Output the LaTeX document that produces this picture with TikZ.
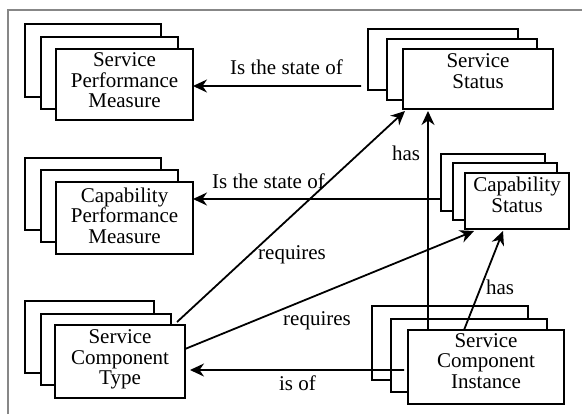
\documentclass[tikz,border=0pt]{standalone}
\usepackage{fontspec}
\setmainfont{Liberation Serif}
\usetikzlibrary{arrows.meta}

\tikzset{
  layer/.style={draw=black, fill=white, line width=2bp, inner sep=0pt, outer sep=0pt},
  boxtext/.style={align=center, inner sep=0pt, font=\fontsize{21bp}{20.5bp}\selectfont},
  lbl/.style={inner sep=0pt, anchor=base, font=\fontsize{21bp}{20.5bp}\selectfont},
  conn/.style={line width=1.8bp, -{Stealth[length=14bp, width=13bp, inset=4.5bp]}},
  frameline/.style={draw=black!47, line width=2bp}
}

% one sheet of a stacked entity
\newcommand\sheet[5]{%
  \node[layer, minimum width=#3, minimum height=#4] (#1) at #2 {#5};}

\begin{document}
\begin{tikzpicture}[x=1bp, y=-1bp]
\useasboundingbox (0,0) rectangle (582,414);
\fill[white] (0,0) rectangle (582,414);
\draw[frameline] (8,414) -- (8,9.5) -- (582,9.5);

% Service Performance Measure
\sheet{spm3}{(93,60.5)}{136bp}{73bp}{}
\sheet{spm2}{(109.5,73)}{137bp}{72bp}{}
\sheet{spm1}{(124.5,84.5)}{137bp}{71bp}{}
\node[boxtext] (spm-t) at (124.5,80.4) {Service\\Performance\\Measure};

% Service Status
\sheet{ss3}{(443,59.5)}{150bp}{61bp}{}
\sheet{ss2}{(462,69.5)}{150bp}{61bp}{}
\sheet{ss1}{(478,79)}{150bp}{60bp}{}
\node[boxtext] (ss-t) at (478,70.9) {Service\\Status};

% Capability Performance Measure
\sheet{cpm3}{(93,194)}{136bp}{72bp}{}
\sheet{cpm2}{(109.5,206)}{137bp}{72bp}{}
\sheet{cpm1}{(124.5,218)}{137bp}{72bp}{}
\node[boxtext] (cpm-t) at (124.5,215.4) {Capability\\Performance\\Measure};

% Capability Status
\sheet{cs3}{(493,182.5)}{104bp}{57bp}{}
\sheet{cs2}{(505,191.5)}{104bp}{57bp}{}
\sheet{cs1}{(517,201)}{104bp}{56bp}{}
\node[boxtext] (cs-t) at (517,194.9) {Capability\\Status};

% Service Component Type
\sheet{sct3}{(89.5,337)}{129bp}{72bp}{}
\sheet{sct2}{(106,349.5)}{130bp}{71bp}{}
\sheet{sct1}{(120,361.5)}{130bp}{73bp}{}
\node[boxtext] (sct-t) at (120,359.7) {Service\\Component\\Type};

% Service Component Instance
\sheet{sci3}{(450,343)}{156bp}{74bp}{}
\sheet{sci2}{(469,355.5)}{156bp}{73bp}{}
\sheet{sci1}{(486,367)}{156bp}{74bp}{}
\node[boxtext] (sci-t) at (486,360.9) {Service\\Component\\Instance};

% relations
\draw[conn] ([xshift=-7bp,yshift=-26.5bp]ss3.west) -- ([yshift=-1.5bp]spm1.east);
\draw[conn] ([yshift=-16.5bp]cs3.west) -- ([yshift=19bp]cpm1.east);
\draw[conn] ([xshift=-8bp,yshift=3bp]sct1.north east) -- ([xshift=2bp,yshift=-2bp]ss1.south west);
\draw[conn] ([yshift=12.5bp]sct1.east) -- ([xshift=9bp,yshift=-2bp]cs1.south west);
\draw[conn] ([xshift=-4bp,yshift=-3bp]sci1.west) -- ([xshift=5bp,yshift=-8.5bp]sct1.east);
\coordinate (sci-top) at ([xshift=20bp]sci1.north west);
\draw[conn] (sci-top) -- ([yshift=-2bp]sci-top |- ss1.south);
\draw[conn] ([xshift=56bp]sci1.north west) -- ([xshift=38bp,yshift=-2bp]cs1.south west);

% relation labels
\node[lbl] (l-state1) at (286.5,74) {Is the state of};
\node[lbl] (l-state2) at (268.5,188) {Is the state of};
\node[lbl] (l-req1) at (292,259) {requires};
\node[lbl] (l-req2) at (317,325) {requires};
\node[lbl] (l-has1) at (406,160) {has};
\node[lbl] (l-has2) at (500,294) {has};
\node[lbl] (l-isof) at (297.5,390) {is of};
\end{tikzpicture}
\end{document}
